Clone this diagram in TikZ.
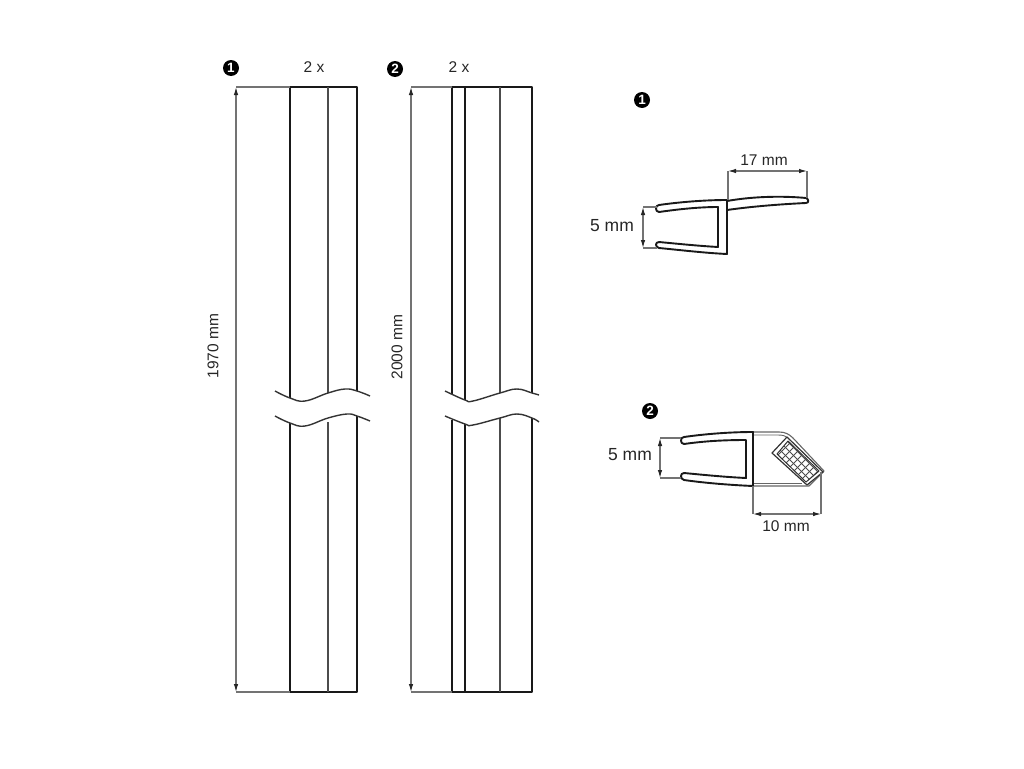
\documentclass[tikz,border=0pt]{standalone}
\usepackage{fontspec}
\setmainfont{Liberation Sans}
\usetikzlibrary{arrows.meta}

\begin{document}
\begin{tikzpicture}[x=1pt,y=-1pt,
	label/.style={font=\fontsize{15.5}{18}\selectfont,text=black!85,inner sep=0pt},
	biglabel/.style={font=\fontsize{17.5}{20}\selectfont,text=black!85,inner sep=0pt},
	bullet/.style={circle,fill=black,text=white,font=\fontsize{13.5}{14}\bfseries\selectfont,minimum size=16pt,inner sep=0pt},
	dimline/.style={draw=black!55,line width=1.1pt,{Latex[length=8pt,width=4.5pt,black!85]}-{Latex[length=8pt,width=4.5pt,black!85]}},
	extline/.style={draw=black!55,line width=1.1pt},
	outerline/.style={draw=black!90,line width=2.4pt,line join=round},
	innerline/.style={draw=black!70,line width=1.6pt},
	waveline/.style={draw=black!80,line width=1.4pt},
	profile/.style={draw=black!90,line width=1.9pt,line join=round,fill=white},
	thinprofile/.style={draw=black!60,line width=1.1pt,line join=round},
	padline/.style={draw=black!80,line width=1.2pt,line join=round}]
	\useasboundingbox (0,0) rectangle (1024,768);
	% labels
	\node[bullet] (numa) at (231,68) {1};
	\node[bullet] (numb) at (395,69) {2};
	\node[bullet] (numc) at (642,100) {1};
	\node[bullet] (numd) at (650,411) {2};
	\node[label] (twoa) at (314,67) {2 x};
	\node[label] (twob) at (459,67) {2 x};
	\node[label,rotate=90] (lena) at (213,346) {1970 mm};
	\node[label,rotate=90] (lenb) at (397,347) {2000 mm};
	\node[label] (widtha) at (764,160) {17 mm};
	\node[label] (widthb) at (786,526) {10 mm};
	\node[biglabel] (gapa) at (612,226) {5 mm};
	\node[biglabel] (gapb) at (630,455) {5 mm};
	% first strip
	\draw[outerline] (290,398) -- (290,87) -- (357,87) -- (357,391);
	\draw[outerline] (290,423) -- (290,692) -- (357,692) -- (357,416);
	\draw[innerline] (328,87) -- (328,393);
	\draw[innerline] (328,422) -- (328,692);
	\draw[waveline] plot[smooth,tension=0.7] coordinates {(275,391) (290,398) (305,401) (328,393) (345,389) (357,391) (370,396)};
	\draw[waveline] plot[smooth,tension=0.7] coordinates {(275,416) (290,423) (305,426) (328,418) (347,414) (357,416) (370,421)};
	% second strip
	\draw[outerline] (452,394) -- (452,87) -- (532,87) -- (532,393);
	\draw[outerline] (452,420) -- (452,692) -- (532,692) -- (532,418);
	\draw[outerline,line width=2pt] (465,87) -- (465,400);
	\draw[outerline,line width=2pt] (465,424) -- (465,692);
	\draw[innerline] (500,87) -- (500,393);
	\draw[innerline] (500,418) -- (500,692);
	\draw[waveline] plot[smooth,tension=0.7] coordinates {(445,391) (465,400) (473,401) (500,393) (517,389) (532,393) (539,395)};
	\draw[waveline] plot[smooth,tension=0.7] coordinates {(445,416) (465,424) (473,425) (500,418) (517,414) (532,418) (539,422)};
	% length dimensions
	\coordinate (lenatop) at (236,87);
	\coordinate (lenabot) at (236,692);
	\coordinate (lenbtop) at (411,87);
	\coordinate (lenbbot) at (411,692);
	\draw[extline] (lenatop) -- (290,87);
	\draw[extline] (lenabot) -- (290,692);
	\draw[extline] (lenbtop) -- (452,87);
	\draw[extline] (lenbbot) -- (452,692);
	\draw[dimline] (lenatop) -- (lenabot);
	\draw[dimline] (lenbtop) -- (lenbbot);
	% first profile
	\draw[profile] (727,201) .. controls (755,196) and (785,196) .. (806,198)
		.. controls (809,199) and (809,203) .. (806,203)
		.. controls (785,204) and (755,206) .. (727,210) -- cycle;
	\draw[profile] (727,200) -- (727,254)
		.. controls (705,253) and (680,250) .. (659,248)
		.. controls (655,247) and (655,242) .. (659,242)
		.. controls (680,244) and (700,246) .. (718,247) -- (718,207)
		.. controls (700,207) and (680,209) .. (659,212)
		.. controls (655,212) and (655,205) .. (659,205)
		.. controls (680,202) and (705,200) .. (727,200) -- cycle;
	\coordinate (widthal) at (728,171);
	\coordinate (widthar) at (807,171);
	\coordinate (gapat) at (643,207);
	\coordinate (gapab) at (643,248);
	\draw[extline] (widthal) -- (728,200);
	\draw[extline] (widthar) -- (807,198);
	\draw[extline] (gapat) -- (657,207);
	\draw[extline] (gapab) -- (657,248);
	\draw[dimline] (widthal) -- (widthar);
	\draw[dimline] (gapat) -- (gapab);
	% second profile
	\draw[thinprofile] (753,432) -- (779,432) .. controls (785,432) and (789,434) .. (793,438)
		-- (824,471) -- (809,486) -- (753,486);
	\draw[thinprofile,line width=0.9pt] (753,435) -- (778,435) .. controls (783,435) and (786,436) .. (788,438);
	\draw[thinprofile,line width=0.9pt] (753,483) -- (802,483);
	\draw[padline,fill=white] (772,453) -- (787,437) -- (823,472) -- (807,485) -- cycle;
	\begin{scope}
		\clip (777,454) -- (788,441) -- (819,471) -- (806,482) -- cycle;
		\foreach \k in {0,8,...,96} {
			\draw[black!70,line width=0.9pt] (760+\k,430) -- (825+\k,495);
			\draw[black!70,line width=0.9pt] (730+\k,495) -- (795+\k,430);
		}
	\end{scope}
	\draw[padline,line width=1pt] (777,454) -- (788,441) -- (819,471) -- (806,482) -- cycle;
	\draw[profile] (753,432) -- (753,486)
		.. controls (730,485) and (705,483) .. (684,480)
		.. controls (680,479) and (680,473) .. (684,473)
		.. controls (705,475) and (725,477) .. (746,478) -- (746,440)
		.. controls (725,440) and (705,441) .. (684,444)
		.. controls (680,444) and (680,437) .. (684,437)
		.. controls (705,434) and (730,432) .. (753,432) -- cycle;
	\coordinate (widthbl) at (753,514);
	\coordinate (widthbr) at (821,514);
	\coordinate (gapbt) at (660,438);
	\coordinate (gapbb) at (660,478);
	\draw[extline] (widthbl) -- (753,486);
	\draw[extline] (widthbr) -- (821,472);
	\draw[extline] (gapbt) -- (681,438);
	\draw[extline] (gapbb) -- (681,478);
	\draw[dimline] (widthbl) -- (widthbr);
	\draw[dimline] (gapbt) -- (gapbb);
\end{tikzpicture}
\end{document}
